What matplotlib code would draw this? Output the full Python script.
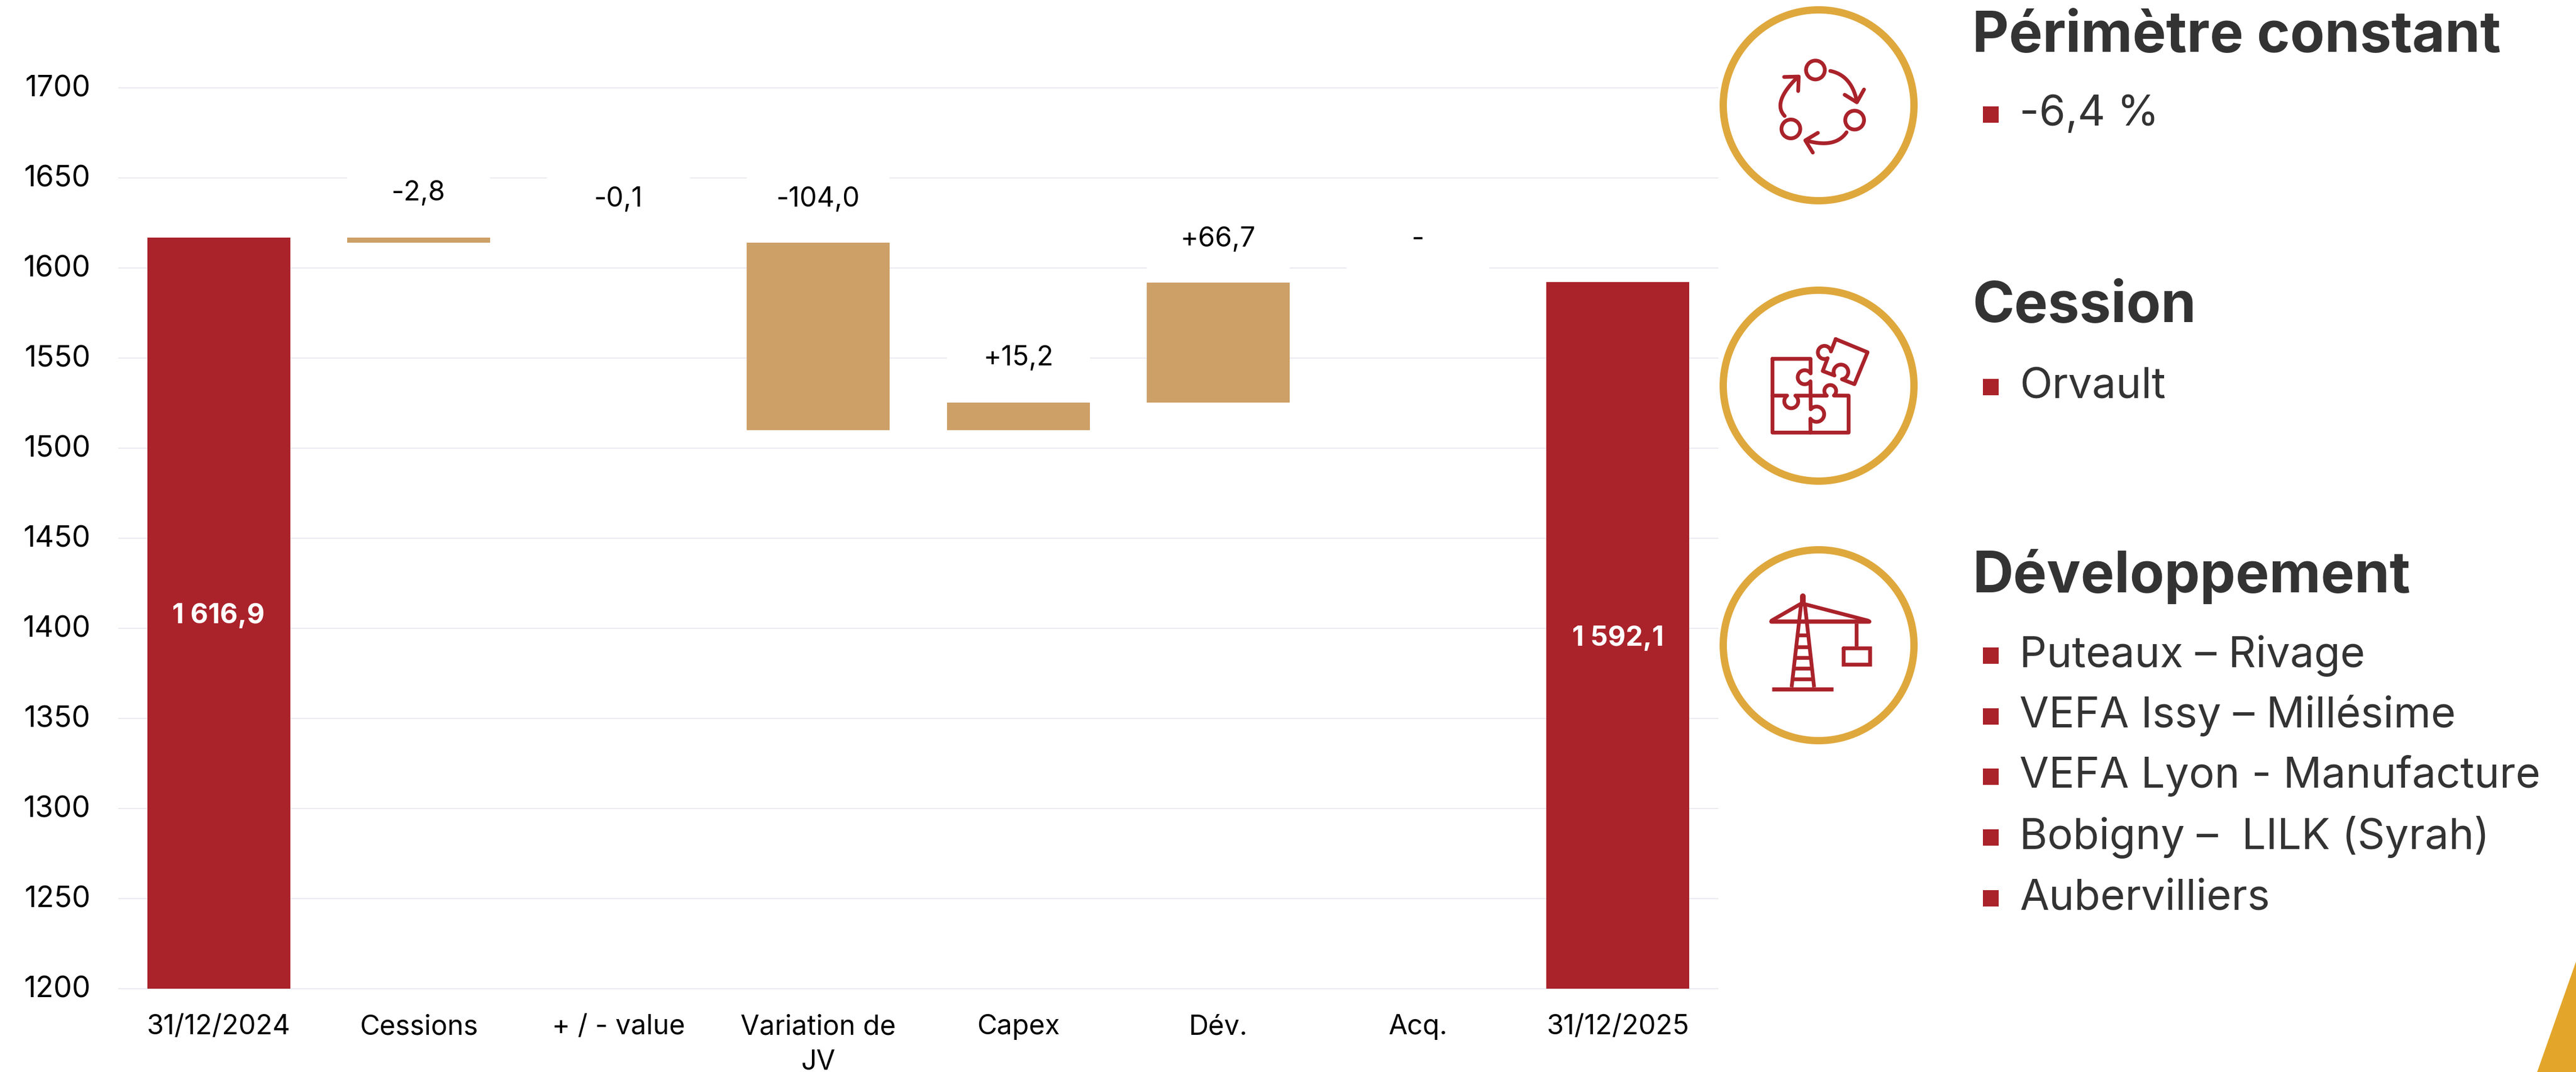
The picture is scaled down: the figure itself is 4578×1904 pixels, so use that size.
import numpy as np
import matplotlib
matplotlib.use("Agg")
import matplotlib.pyplot as plt
from matplotlib.patches import Rectangle, Circle, Polygon
from matplotlib.lines import Line2D
from matplotlib.transforms import ScaledTranslation

# ---------- data ----------
categories = ["31/12/2024", "Cessions", "+ / - value", "Variation de\nJV", "Capex", "Dév.", "Acq.", "31/12/2025"]
opening = 1616.9
deltas = [-2.8, -0.1, -104.0, 15.2, 66.7, 0.0]
closing = 1592.1
delta_labels = ["-2,8", "-0,1", "-104,0", "+15,2", "+66,7", "-"]
delta_label_y = [1641.6, 1638.0, 1638.0, 1550.0, 1616.0, 1616.0]
total_labels = ["1 616,9", "1 592,1"]
yticks = [1200, 1250, 1300, 1350, 1400, 1450, 1500, 1550, 1600, 1650, 1700]

sections = [
    ("Périmètre constant", 91.5, [("-6,4 %", 223)]),
    ("Cession", 572, [("Orvault", 707)]),
    ("Développement", 1052, [("Puteaux – Rivage", 1184), ("VEFA Issy – Millésime", 1292),
                             ("VEFA Lyon - Manufacture", 1399), ("Bobigny –  LILK (Syrah)", 1507),
                             ("Aubervilliers", 1615)]),
]

# ---------- style ----------
W, H = 4578, 1904
RED = "#AA222A"
TAN = "#CDA067"
GOLD = "#DFA83D"
TRI = "#E3A62B"
GRID = "#EAEAF1"
DARK = "#333333"
FONT = "Inter"
plt.rcParams["font.family"] = [FONT, "DejaVu Sans"]
px = 0.72  # points per pixel at dpi 100

fig = plt.figure(figsize=(W / 100, H / 100), dpi=100, facecolor="white")
ax = fig.add_axes([211 / W, 1 - 1756 / H, (3053 - 211) / W, 1600 / H])
ax.set_xlim(-0.5, 7.5)
ax.set_ylim(1200, 1700)
for s in ax.spines.values():
    s.set_visible(False)
ax.set_axisbelow(True)
ax.yaxis.grid(True, color=GRID, lw=2 * px)
for gl in ax.yaxis.get_gridlines():
    gl.set_clip_on(False)
ax.set_yticks(yticks)
ax.set_yticklabels([str(t) for t in yticks])
ax.set_xticks(range(len(categories)))
ax.set_xticklabels(categories, linespacing=1.46)
ax.tick_params(axis="y", length=0, pad=50 * px, labelsize=37.5, labelcolor="black")
ax.tick_params(axis="x", length=0, pad=45 * px, labelsize=35, labelcolor="black")
for lab in ax.get_yticklabels():
    lab.set_transform(lab.get_transform() + ScaledTranslation(0, 4 / 100, fig.dpi_scale_trans))

BW = 254 / 355.25
# totals
ax.bar([0, 7], [opening - 1200, closing - 1200], bottom=1200, width=BW, color=RED, zorder=3)
for x, v, t in zip([0, 7], [opening, closing], total_labels):
    ax.annotate(t, (x, (v + 1200) / 2), xytext=(0, -5 * px), textcoords="offset points",
                color="white", ha="center", va="center", fontsize=35, fontweight="bold", zorder=5)

# waterfall steps
level = opening
for i, (d, lab, ly) in enumerate(zip(deltas, delta_labels, delta_label_y), start=1):
    ax.bar(i, 34, bottom=ly - 17, width=BW, color="white", zorder=2)
    if abs(d) >= 0.5:
        ax.bar(i, abs(d), bottom=min(level, level + d), width=BW, color=TAN, zorder=3)
    level += d
    ax.text(i, ly, lab, color="black", ha="center", va="center", fontsize=35, zorder=5)

# ---------- overlay in pixel coordinates ----------
ov = fig.add_axes([0, 0, 1, 1], zorder=10)
ov.set_xlim(0, W)
ov.set_ylim(H, 0)
ov.axis("off")
ov.patch.set_alpha(0)

ov.add_patch(Polygon([(4578, 1708), (4509, 1904), (4578, 1904)], closed=True, fc=TRI, ec="none"))

for cy in (187, 685, 1146):
    ov.add_patch(Circle((3232, cy), 169.5, fc="none", ec=GOLD, lw=13 * px))

for title, base, items in sections:
    ov.text(3505, base, title, color=DARK, fontsize=72.3, fontweight="bold", ha="left", va="baseline")
    for txt, b in items:
        ov.add_patch(Rectangle((3524, b - 34), 28, 29, fc=RED, ec="none"))
        ov.text(3589, b, txt, color=DARK, fontsize=54.5, ha="left", va="baseline")


def stroke(pts, ox, oy, lw=6.7, cap="round", join="round", closed=False):
    p = np.asarray(pts, float) / 3 + (ox, oy)
    if closed:
        p = np.vstack([p, p[0]])
    ov.add_line(Line2D(p[:, 0], p[:, 1], color=RED, lw=lw * px, solid_capstyle=cap, solid_joinstyle=join))


def lobe(p0, p1, c):
    c = np.array(c, float)
    a0 = np.arctan2(p0[1] - c[1], p0[0] - c[0])
    a1 = np.arctan2(p1[1] - c[1], p1[0] - c[0])
    sweep = (a1 - a0) % (2 * np.pi)
    if sweep < np.pi:
        sweep -= 2 * np.pi
    r = (np.hypot(*(np.array(p0) - c)) + np.hypot(*(np.array(p1) - c))) / 2
    t = a0 + np.linspace(0, 1, 30) * sweep
    return np.c_[c[0] + r * np.cos(t), c[1] + r * np.sin(t)]


def curve(p0, m, p2, n=40):
    p0, m, p2 = map(lambda q: np.array(q, float), (p0, m, p2))
    ctrl = 2 * m - 0.5 * (p0 + p2)
    t = np.linspace(0, 1, n)[:, None]
    return (1 - t) ** 2 * p0 + 2 * t * (1 - t) * ctrl + t ** 2 * p2


# icon 1 : cycle
o1 = (3140, 90)
for c in [(259, 103), (468, 370), (128, 417)]:
    ov.add_patch(Circle((c[0] / 3 + o1[0], c[1] / 3 + o1[1]), 16.7, fc="none", ec=RED, lw=6.7 * px))
stroke(curve((338, 108), (430, 160), (480, 270)), *o1)
stroke([(415, 235), (480, 275), (518, 207)], *o1)
stroke(curve((425, 435), (340, 490), (208, 478)), *o1)
stroke([(272, 438), (205, 478), (245, 543)], *o1)
stroke(curve((95, 348), (78, 260), (165, 140)), *o1)
stroke([(92, 140), (170, 138), (167, 215)], *o1)

# icon 2 : puzzle
o2 = (3100, 560)
outer = np.vstack([
    [(150, 232), (353, 232)],
    lobe((353, 310), (353, 352), (322, 330)),
    lobe((353, 500), (353, 550), (385, 527)),
    [(353, 625), (150, 625), (150, 232)],
])
stroke(outer, *o2)
mid = np.vstack([
    [(150, 428)],
    lobe((228, 428), (272, 428), (250, 458)),
    lobe((440, 428), (478, 428), (458, 403)),
    [(556, 428), (556, 625), (353, 625)],
])
stroke(mid, *o2)
piece = np.vstack([
    [(487, 127), (657, 197), (587, 367)],
    lobe((520, 338), (478, 322), (515, 302)),
    [(418, 297)],
    lobe((445, 230), (460, 193), (427, 198)),
])
stroke(piece, *o2, closed=True)

# icon 3 : crane
o3 = (3120, 1030)
stroke([(252, 88), (252, 125)], *o3, lw=10)
stroke([(243, 125), (192, 572)], *o3, cap="butt")
stroke([(262, 125), (312, 572)], *o3, cap="butt")
stroke([(245, 125), (85, 217)], *o3)
stroke([(265, 130), (600, 217)], *o3)
stroke([(85, 222), (605, 222)], *o3, lw=7.5)
for ry in (295, 358, 413, 470, 527):
    xl = 243 + (ry - 125) * (192 - 243) / 447
    xr = 262 + (ry - 125) * (312 - 262) / 447
    stroke([(xl, ry), (xr, ry)], *o3, cap="butt")
stroke([(88, 582), (415, 582)], *o3, lw=7.3, cap="butt")
stroke([(538, 232), (538, 355)], *o3, cap="butt")
stroke([(468, 364), (608, 364), (608, 449), (468, 449)], *o3, closed=True, join="miter")

fig.savefig("out.png", dpi=100, facecolor="white")
